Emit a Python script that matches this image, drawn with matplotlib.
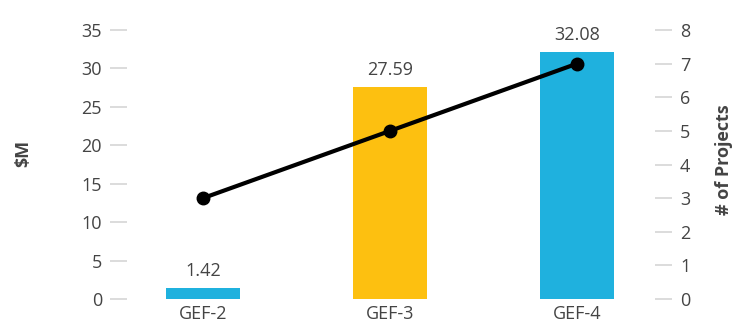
import numpy as np
import matplotlib.pyplot as plt

# data
categories = ["GEF-2", "GEF-3", "GEF-4"]
funding = [1.42, 27.59, 32.08]      # $M
projects = [3, 5, 7]                # # of projects
bar_colors = ["#1fb1de", "#fdc010", "#1fb1de"]

TEXT = "#444444"
TICK = "#d9d9d9"

plt.rcParams['font.family'] = ['Open Sans', 'DejaVu Sans']

fig = plt.figure(figsize=(7.36, 3.27), dpi=100)
ax1 = fig.add_axes([0.1726, 0.0856, 0.7174, 0.8226])
ax2 = ax1.twinx()

x = np.arange(len(categories))
bars = ax1.bar(x, funding, width=0.4, color=bar_colors)
for b, v in zip(bars, funding):
    ax1.annotate(f"{v:.2f}", (b.get_x() + b.get_width() / 2, v),
                 xytext=(0, 6), textcoords="offset points",
                 ha="center", va="bottom", fontsize=13, color=TEXT)

ax2.plot(x, projects, color="black", lw=3, marker="o", ms=9)

ax1.set_xlim(-0.406, 2.417)
ax1.set_ylim(0, 35)
ax2.set_ylim(0, 8)
ax1.set_yticks(np.arange(0, 36, 5))
ax2.set_yticks(np.arange(0, 9, 1))
ax1.set_xticks(x)
ax1.set_xticklabels(categories)

for ax in (ax1, ax2):
    for s in ax.spines.values():
        s.set_visible(False)
    ax.tick_params(axis="y", length=12, width=1.3, color=TICK,
                   labelcolor=TEXT, labelsize=13, pad=6)
ax1.tick_params(axis="x", length=0, labelcolor=TEXT, labelsize=13, pad=4)

ax1.set_ylabel("$M", fontsize=13, fontweight="bold", color=TEXT)
ax2.set_ylabel("# of Projects", fontsize=13, fontweight="bold", color=TEXT)
ax1.yaxis.set_label_coords(-0.18, 0.543)
ax2.yaxis.set_label_coords(1.114, 0.517)

fig.savefig("out.png", dpi=100)
